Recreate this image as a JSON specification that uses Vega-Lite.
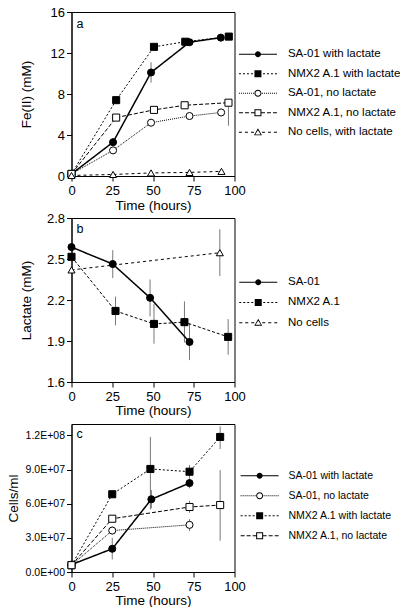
{
  "$schema": "https://vega.github.io/schema/vega-lite/v6.json",
  "padding": {"left": 3.5, "top": 5, "right": 160, "bottom": 0},
  "bounds": "flush",
  "spacing": 42,
  "resolve": {"scale": {"x": "independent", "y": "independent", "shape": "independent"}, "legend": {"shape": "independent"}},
  "config": {
    "font": "Liberation Sans",
    "view": {"stroke": "black", "strokeWidth": 1},
    "axis": {"domainColor": "black", "tickColor": "black", "labelColor": "black", "titleColor": "black", "grid": false, "labelFont": "Liberation Sans", "titleFont": "Liberation Sans", "labelFontSize": 13, "titleFontSize": 13.5, "titleFontWeight": "normal", "tickSize": 5, "labelPadding": 2, "domainWidth": 1, "tickWidth": 1, "labelFlush": false, "labelOverlap": false},
    "legend": {"labelColor": "black", "labelFont": "Liberation Sans", "labelLimit": 200, "title": null, "orient": "none", "padding": 0, "symbolSize": 4, "symbolOffset": 0, "symbolStrokeWidth": 0, "symbolOpacity": 1},
    "title": {"font": "Liberation Sans", "fontSize": 12.5, "fontWeight": "normal", "color": "black"}
  },
  "datasets": {
    "fe": [
      {"s": "SA-01 with lactate", "t": 0, "v": 0.2},
      {"s": "SA-01 with lactate", "t": 25.5, "v": 3.3, "lo": 2.9, "hi": 3.7},
      {"s": "SA-01 with lactate", "t": 48.8, "v": 10.1, "lo": 9.1, "hi": 11.1},
      {"s": "SA-01 with lactate", "t": 72.4, "v": 13.05},
      {"s": "SA-01 with lactate", "t": 91.6, "v": 13.5},
      {"s": "NMX2 A.1 with lactate", "t": 0, "v": 0.2},
      {"s": "NMX2 A.1 with lactate", "t": 27.4, "v": 7.4},
      {"s": "NMX2 A.1 with lactate", "t": 50.6, "v": 12.6},
      {"s": "NMX2 A.1 with lactate", "t": 69.8, "v": 13.1},
      {"s": "NMX2 A.1 with lactate", "t": 96.5, "v": 13.6},
      {"s": "SA-01, no lactate", "t": 0, "v": 0.2},
      {"s": "SA-01, no lactate", "t": 25.5, "v": 2.5},
      {"s": "SA-01, no lactate", "t": 48.8, "v": 5.2},
      {"s": "SA-01, no lactate", "t": 72.4, "v": 5.85},
      {"s": "SA-01, no lactate", "t": 91.8, "v": 6.2},
      {"s": "NMX2 A.1, no lactate", "t": 0, "v": 0.2},
      {"s": "NMX2 A.1, no lactate", "t": 27.4, "v": 5.7},
      {"s": "NMX2 A.1, no lactate", "t": 50.6, "v": 6.45},
      {"s": "NMX2 A.1, no lactate", "t": 69.4, "v": 6.9},
      {"s": "NMX2 A.1, no lactate", "t": 96.3, "v": 7.15, "lo": 4.9, "hi": 7.15},
      {"s": "No cells, with lactate", "t": 0, "v": 0.05},
      {"s": "No cells, with lactate", "t": 25.5, "v": 0.15},
      {"s": "No cells, with lactate", "t": 48.8, "v": 0.3},
      {"s": "No cells, with lactate", "t": 72.4, "v": 0.35},
      {"s": "No cells, with lactate", "t": 92, "v": 0.45}
    ],
    "lac": [
      {"s": "SA-01", "t": 0, "v": 2.587},
      {"s": "SA-01", "t": 25.3, "v": 2.463, "lo": 2.36, "hi": 2.565},
      {"s": "SA-01", "t": 48.2, "v": 2.216, "lo": 2.08, "hi": 2.35},
      {"s": "SA-01", "t": 72.4, "v": 1.893, "lo": 1.76, "hi": 2.03},
      {"s": "NMX2 A.1", "t": 0, "v": 2.516},
      {"s": "NMX2 A.1", "t": 27, "v": 2.12, "lo": 2.015, "hi": 2.225},
      {"s": "NMX2 A.1", "t": 50.6, "v": 2.025, "lo": 1.88, "hi": 2.17},
      {"s": "NMX2 A.1", "t": 69.3, "v": 2.038, "lo": 1.89, "hi": 2.19},
      {"s": "NMX2 A.1", "t": 96.1, "v": 1.93, "lo": 1.8, "hi": 2.06},
      {"s": "No cells", "t": 0, "v": 2.42},
      {"s": "No cells", "t": 91, "v": 2.546, "lo": 2.375, "hi": 2.717}
    ],
    "cells": [
      {"s": "SA-01 with lactate", "t": 0, "v": 6500000},
      {"s": "SA-01 with lactate", "t": 25, "v": 20400000, "lo": 11000000, "hi": 30000000},
      {"s": "SA-01 with lactate", "t": 49, "v": 63900000, "lo": 56000000, "hi": 72000000},
      {"s": "SA-01 with lactate", "t": 72.4, "v": 78100000, "lo": 73500000, "hi": 83000000},
      {"s": "SA-01, no lactate", "t": 0, "v": 6000000},
      {"s": "SA-01, no lactate", "t": 25, "v": 36400000, "lo": 33000000, "hi": 40000000},
      {"s": "SA-01, no lactate", "t": 72.4, "v": 41400000, "lo": 36000000, "hi": 46500000},
      {"s": "NMX2 A.1 with lactate", "t": 0, "v": 6000000},
      {"s": "NMX2 A.1 with lactate", "t": 25, "v": 68300000},
      {"s": "NMX2 A.1 with lactate", "t": 48.4, "v": 90500000, "lo": 55000000, "hi": 118700000},
      {"s": "NMX2 A.1 with lactate", "t": 72.4, "v": 88100000, "lo": 83000000, "hi": 94000000},
      {"s": "NMX2 A.1 with lactate", "t": 91.2, "v": 118600000, "lo": 108000000, "hi": 128000000},
      {"s": "NMX2 A.1, no lactate", "t": 0, "v": 6000000},
      {"s": "NMX2 A.1, no lactate", "t": 25, "v": 46800000},
      {"s": "NMX2 A.1, no lactate", "t": 72.4, "v": 57100000, "lo": 52000000, "hi": 62500000},
      {"s": "NMX2 A.1, no lactate", "t": 91.2, "v": 58800000, "lo": 27500000, "hi": 89500000}
    ]
  },
  "vconcat": [
    {
      "width": 163, "height": 164,
      "data": {"name": "fe"},
      "title": {"text": "a", "anchor": "start", "frame": "group", "orient": "top", "offset": 0, "baseline": "top", "dx": 5, "dy": 24},
      "layer": [
        {
          "transform": [{"filter": "isValid(datum.lo)"}],
          "mark": {"type": "rule", "stroke": "#555555", "strokeWidth": 0.8},
          "encoding": {
            "x": {"field": "t", "type": "quantitative", "scale": {"domain": [0, 100], "nice": false}, "axis": {"values": [0, 25, 50, 75, 100], "title": "Time (hours)", "titlePadding": 1, "labelPadding": 3}},
            "y": {"field": "lo", "type": "quantitative", "scale": {"domain": [0, 16], "nice": false}, "axis": {"values": [0, 4, 8, 12, 16], "title": "Fe(II)  (mM)", "titlePadding": 17}},
            "y2": {"field": "hi"}
          }
        },
        {
          "mark": {"type": "line", "stroke": "black"},
          "encoding": {
            "x": {"field": "t", "type": "quantitative", "scale": {"domain": [0, 100], "nice": false}, "axis": {"values": [0, 25, 50, 75, 100], "title": "Time (hours)", "titlePadding": 1, "labelPadding": 3}},
            "y": {"field": "v", "type": "quantitative", "scale": {"domain": [0, 16], "nice": false}, "axis": {"values": [0, 4, 8, 12, 16], "title": "Fe(II)  (mM)", "titlePadding": 17}},
            "detail": {"field": "s", "type": "nominal"},
            "strokeDash": {"condition": [{"test": "datum.s=='NMX2 A.1 with lactate'", "value": [2, 2]}, {"test": "datum.s=='SA-01, no lactate'", "value": [1, 1]}, {"test": "datum.s=='NMX2 A.1, no lactate'", "value": [4, 2]}, {"test": "datum.s=='No cells, with lactate'", "value": [3, 3]}], "value": [1, 0]},
            "strokeWidth": {"condition": {"test": "datum.s=='SA-01 with lactate'", "value": 1.5}, "value": 1}
          }
        },
        {
          "mark": {"type": "point", "filled": true, "stroke": "black", "strokeWidth": 1, "opacity": 1, "size": 50},
          "encoding": {
            "x": {"field": "t", "type": "quantitative", "scale": {"domain": [0, 100], "nice": false}, "axis": {"values": [0, 25, 50, 75, 100], "title": "Time (hours)", "titlePadding": 1, "labelPadding": 3}},
            "y": {"field": "v", "type": "quantitative", "scale": {"domain": [0, 16], "nice": false}, "axis": {"values": [0, 4, 8, 12, 16], "title": "Fe(II)  (mM)", "titlePadding": 17}},
            "fill": {"condition": {"test": "datum.s=='SA-01 with lactate' || datum.s=='NMX2 A.1 with lactate'", "value": "black"}, "value": "white"},
            "shape": {"condition": [{"test": "indexof(datum.s, 'NMX2') >= 0", "value": "square"}, {"test": "indexof(datum.s, 'No cells') >= 0", "value": "triangle-up"}], "value": "circle"}
          }
        },
        {
          "mark": {"type": "point", "filled": true, "fill": "black", "strokeWidth": 0, "opacity": 0, "size": 50},
          "encoding": {
            "x": {"field": "t", "type": "quantitative", "scale": {"domain": [0, 100], "nice": false}, "axis": {"values": [0, 25, 50, 75, 100], "title": "Time (hours)", "titlePadding": 1, "labelPadding": 3}},
            "y": {"field": "v", "type": "quantitative", "scale": {"domain": [0, 16], "nice": false}, "axis": {"values": [0, 4, 8, 12, 16], "title": "Fe(II)  (mM)", "titlePadding": 17}},
            "shape": {"field": "s", "type": "nominal", "scale": {"domain": ["SA-01 with lactate", "NMX2 A.1 with lactate", "SA-01, no lactate", "NMX2 A.1, no lactate", "No cells, with lactate"], "range": [
              "M-19,-0.6H19V0.6H-19ZM3,0A3,3,0,1,1,-3,0A3,3,0,1,1,3,0Z",
              "M-19,-0.5H-17V0.5H-19ZM-15,-0.5H-13V0.5H-15ZM-11,-0.5H-9V0.5H-11ZM-7,-0.5H-5V0.5H-7ZM5,-0.5H7V0.5H5ZM9,-0.5H11V0.5H9ZM13,-0.5H15V0.5H13ZM17,-0.5H19V0.5H17ZM-3.5,-3.5H3.5V3.5H-3.5Z",
              "M-19,-0.5H-18V0.5H-19ZM-17,-0.5H-16V0.5H-17ZM-15,-0.5H-14V0.5H-15ZM-13,-0.5H-12V0.5H-13ZM-11,-0.5H-10V0.5H-11ZM-9,-0.5H-8V0.5H-9ZM-7,-0.5H-6V0.5H-7ZM-5,-0.5H-4V0.5H-5ZM4,-0.5H5V0.5H4ZM6,-0.5H7V0.5H6ZM8,-0.5H9V0.5H8ZM10,-0.5H11V0.5H10ZM12,-0.5H13V0.5H12ZM14,-0.5H15V0.5H14ZM16,-0.5H17V0.5H16ZM18,-0.5H19V0.5H18ZM3.5,0A3.5,3.5,0,1,1,-3.5,0A3.5,3.5,0,1,1,3.5,0ZM2.5,0A2.5,2.5,0,1,0,-2.5,0A2.5,2.5,0,1,0,2.5,0Z",
              "M-19,-0.5H-15V0.5H-19ZM-13,-0.5H-9V0.5H-13ZM-7,-0.5H-3.5V0.5H-7ZM3.5,-0.5H7V0.5H3.5ZM9,-0.5H13V0.5H9ZM15,-0.5H19V0.5H15ZM-3.5,-3.5H3.5V3.5H-3.5ZM-2.5,-2.5V2.5H2.5V-2.5Z",
              "M-19,-0.5H-16V0.5H-19ZM-13,-0.5H-10V0.5H-13ZM-7,-0.5H-4V0.5H-7ZM4,-0.5H7V0.5H4ZM10,-0.5H13V0.5H10ZM16,-0.5H19V0.5H16ZM0,-4L4,3H-4ZM0,-2L-2.7,2.2H2.7Z"
            ]},
              "legend": {"orient": "none", "legendX": 180.7, "legendY": 36.5, "title": null, "labelOffset": 24.25, "rowPadding": 6.5, "labelFontSize": 11.5, "symbolOpacity": 1, "symbolSize": 4, "symbolStrokeWidth": 0}
            }
          }
        }
      ]
    },
    {
      "width": 163, "height": 164,
      "data": {"name": "lac"},
      "title": {"text": "b", "anchor": "start", "frame": "group", "orient": "top", "offset": 0, "baseline": "top", "dx": 5, "dy": 23.5},
      "layer": [
        {
          "transform": [{"filter": "isValid(datum.lo)"}],
          "mark": {"type": "rule", "stroke": "#555555", "strokeWidth": 0.8},
          "encoding": {
            "x": {"field": "t", "type": "quantitative", "scale": {"domain": [0, 100], "nice": false}, "axis": {"values": [0, 25, 50, 75, 100], "title": "Time (hours)", "titlePadding": 0, "labelPadding": 3}},
            "y": {"field": "lo", "type": "quantitative", "scale": {"domain": [1.6, 2.8], "nice": false, "zero": false}, "axis": {"values": [1.6, 1.9, 2.2, 2.5, 2.8], "format": ".1f", "title": "Lactate (mM)", "titlePadding": 13}},
            "y2": {"field": "hi"}
          }
        },
        {
          "mark": {"type": "line", "stroke": "black"},
          "encoding": {
            "x": {"field": "t", "type": "quantitative", "scale": {"domain": [0, 100], "nice": false}, "axis": {"values": [0, 25, 50, 75, 100], "title": "Time (hours)", "titlePadding": 0, "labelPadding": 3}},
            "y": {"field": "v", "type": "quantitative", "scale": {"domain": [1.6, 2.8], "nice": false, "zero": false}, "axis": {"values": [1.6, 1.9, 2.2, 2.5, 2.8], "format": ".1f", "title": "Lactate (mM)", "titlePadding": 13}},
            "detail": {"field": "s", "type": "nominal"},
            "strokeDash": {"condition": [{"test": "datum.s=='NMX2 A.1'", "value": [3, 2]}, {"test": "datum.s=='No cells'", "value": [3, 3]}], "value": [1, 0]},
            "strokeWidth": {"condition": {"test": "datum.s=='SA-01'", "value": 1.5}, "value": 1}
          }
        },
        {
          "mark": {"type": "point", "filled": true, "stroke": "black", "strokeWidth": 1, "opacity": 1, "size": 50},
          "encoding": {
            "x": {"field": "t", "type": "quantitative", "scale": {"domain": [0, 100], "nice": false}, "axis": {"values": [0, 25, 50, 75, 100], "title": "Time (hours)", "titlePadding": 0, "labelPadding": 3}},
            "y": {"field": "v", "type": "quantitative", "scale": {"domain": [1.6, 2.8], "nice": false, "zero": false}, "axis": {"values": [1.6, 1.9, 2.2, 2.5, 2.8], "format": ".1f", "title": "Lactate (mM)", "titlePadding": 13}},
            "fill": {"condition": {"test": "datum.s=='No cells'", "value": "white"}, "value": "black"},
            "shape": {"condition": [{"test": "datum.s=='NMX2 A.1'", "value": "square"}, {"test": "datum.s=='No cells'", "value": "triangle-up"}], "value": "circle"}
          }
        },
        {
          "mark": {"type": "point", "filled": true, "fill": "black", "strokeWidth": 0, "opacity": 0, "size": 50},
          "encoding": {
            "x": {"field": "t", "type": "quantitative", "scale": {"domain": [0, 100], "nice": false}, "axis": {"values": [0, 25, 50, 75, 100], "title": "Time (hours)", "titlePadding": 0, "labelPadding": 3}},
            "y": {"field": "v", "type": "quantitative", "scale": {"domain": [1.6, 2.8], "nice": false, "zero": false}, "axis": {"values": [1.6, 1.9, 2.2, 2.5, 2.8], "format": ".1f", "title": "Lactate (mM)", "titlePadding": 13}},
            "shape": {"field": "s", "type": "nominal", "scale": {"domain": ["SA-01", "NMX2 A.1", "No cells"], "range": [
              "M-19,-0.6H19V0.6H-19ZM3,0A3,3,0,1,1,-3,0A3,3,0,1,1,3,0Z",
              "M-19,-0.5H-17V0.5H-19ZM-15,-0.5H-13V0.5H-15ZM-11,-0.5H-9V0.5H-11ZM-7,-0.5H-5V0.5H-7ZM5,-0.5H7V0.5H5ZM9,-0.5H11V0.5H9ZM13,-0.5H15V0.5H13ZM17,-0.5H19V0.5H17ZM-3.5,-3.5H3.5V3.5H-3.5Z",
              "M-19,-0.5H-16V0.5H-19ZM-13,-0.5H-10V0.5H-13ZM-7,-0.5H-4V0.5H-7ZM4,-0.5H7V0.5H4ZM10,-0.5H13V0.5H10ZM16,-0.5H19V0.5H16ZM0,-4L4,3H-4ZM0,-2L-2.7,2.2H2.7Z"
            ]},
              "legend": {"orient": "none", "legendX": 181, "legendY": 58.5, "title": null, "labelOffset": 24, "rowPadding": 7.2, "labelFontSize": 11.5, "symbolOpacity": 1, "symbolSize": 4, "symbolStrokeWidth": 0}
            }
          }
        }
      ]
    },
    {
      "width": 163, "height": 148,
      "data": {"name": "cells"},
      "title": {"text": "c", "anchor": "start", "frame": "group", "orient": "top", "offset": 0, "baseline": "top", "dx": 5, "dy": 16.5},
      "layer": [
        {
          "transform": [{"filter": "isValid(datum.lo)"}],
          "mark": {"type": "rule", "stroke": "#555555", "strokeWidth": 0.8},
          "encoding": {
            "x": {"field": "t", "type": "quantitative", "scale": {"domain": [0, 100], "nice": false}, "axis": {"values": [0, 25, 50, 75, 100], "title": "Time (hours)", "titlePadding": 0, "labelPadding": 3}},
            "y": {"field": "lo", "type": "quantitative", "scale": {"domain": [0, 130000000], "nice": false}, "axis": {"values": [0, 30000000, 60000000, 90000000, 120000000], "labelExpr": "replace(format(datum.value, '.1e'), 'e+', 'E+0')", "labelFontSize": 10.5, "title": "Cells/ml", "titlePadding": 5}},
            "y2": {"field": "hi"}
          }
        },
        {
          "mark": {"type": "line", "stroke": "black"},
          "encoding": {
            "x": {"field": "t", "type": "quantitative", "scale": {"domain": [0, 100], "nice": false}, "axis": {"values": [0, 25, 50, 75, 100], "title": "Time (hours)", "titlePadding": 0, "labelPadding": 3}},
            "y": {"field": "v", "type": "quantitative", "scale": {"domain": [0, 130000000], "nice": false}, "axis": {"values": [0, 30000000, 60000000, 90000000, 120000000], "labelExpr": "replace(format(datum.value, '.1e'), 'e+', 'E+0')", "labelFontSize": 10.5, "title": "Cells/ml", "titlePadding": 5}},
            "detail": {"field": "s", "type": "nominal"},
            "strokeDash": {"condition": [{"test": "datum.s=='SA-01, no lactate'", "value": [1, 1]}, {"test": "datum.s=='NMX2 A.1 with lactate'", "value": [2, 2]}, {"test": "datum.s=='NMX2 A.1, no lactate'", "value": [4, 2]}], "value": [1, 0]},
            "strokeWidth": {"condition": {"test": "datum.s=='SA-01 with lactate'", "value": 1.5}, "value": 1}
          }
        },
        {
          "mark": {"type": "point", "filled": true, "stroke": "black", "strokeWidth": 1, "opacity": 1, "size": 50},
          "encoding": {
            "x": {"field": "t", "type": "quantitative", "scale": {"domain": [0, 100], "nice": false}, "axis": {"values": [0, 25, 50, 75, 100], "title": "Time (hours)", "titlePadding": 0, "labelPadding": 3}},
            "y": {"field": "v", "type": "quantitative", "scale": {"domain": [0, 130000000], "nice": false}, "axis": {"values": [0, 30000000, 60000000, 90000000, 120000000], "labelExpr": "replace(format(datum.value, '.1e'), 'e+', 'E+0')", "labelFontSize": 10.5, "title": "Cells/ml", "titlePadding": 5}},
            "fill": {"condition": {"test": "datum.s=='SA-01 with lactate' || datum.s=='NMX2 A.1 with lactate'", "value": "black"}, "value": "white"},
            "shape": {"condition": {"test": "indexof(datum.s, 'NMX2') >= 0", "value": "square"}, "value": "circle"}
          }
        },
        {
          "mark": {"type": "point", "filled": true, "fill": "black", "strokeWidth": 0, "opacity": 0, "size": 50},
          "encoding": {
            "x": {"field": "t", "type": "quantitative", "scale": {"domain": [0, 100], "nice": false}, "axis": {"values": [0, 25, 50, 75, 100], "title": "Time (hours)", "titlePadding": 0, "labelPadding": 3}},
            "y": {"field": "v", "type": "quantitative", "scale": {"domain": [0, 130000000], "nice": false}, "axis": {"values": [0, 30000000, 60000000, 90000000, 120000000], "labelExpr": "replace(format(datum.value, '.1e'), 'e+', 'E+0')", "labelFontSize": 10.5, "title": "Cells/ml", "titlePadding": 5}},
            "shape": {"field": "s", "type": "nominal", "scale": {"domain": ["SA-01 with lactate", "SA-01, no lactate", "NMX2 A.1 with lactate", "NMX2 A.1, no lactate"], "range": [
              "M-19,-0.6H19V0.6H-19ZM3,0A3,3,0,1,1,-3,0A3,3,0,1,1,3,0Z",
              "M-19,-0.5H-18V0.5H-19ZM-17,-0.5H-16V0.5H-17ZM-15,-0.5H-14V0.5H-15ZM-13,-0.5H-12V0.5H-13ZM-11,-0.5H-10V0.5H-11ZM-9,-0.5H-8V0.5H-9ZM-7,-0.5H-6V0.5H-7ZM-5,-0.5H-4V0.5H-5ZM4,-0.5H5V0.5H4ZM6,-0.5H7V0.5H6ZM8,-0.5H9V0.5H8ZM10,-0.5H11V0.5H10ZM12,-0.5H13V0.5H12ZM14,-0.5H15V0.5H14ZM16,-0.5H17V0.5H16ZM18,-0.5H19V0.5H18ZM3.5,0A3.5,3.5,0,1,1,-3.5,0A3.5,3.5,0,1,1,3.5,0ZM2.5,0A2.5,2.5,0,1,0,-2.5,0A2.5,2.5,0,1,0,2.5,0Z",
              "M-19,-0.5H-17V0.5H-19ZM-15,-0.5H-13V0.5H-15ZM-11,-0.5H-9V0.5H-11ZM-7,-0.5H-5V0.5H-7ZM5,-0.5H7V0.5H5ZM9,-0.5H11V0.5H9ZM13,-0.5H15V0.5H13ZM17,-0.5H19V0.5H17ZM-3.5,-3.5H3.5V3.5H-3.5Z",
              "M-19,-0.5H-15V0.5H-19ZM-13,-0.5H-9V0.5H-13ZM-7,-0.5H-3.5V0.5H-7ZM3.5,-0.5H7V0.5H3.5ZM9,-0.5H13V0.5H9ZM15,-0.5H19V0.5H15ZM-3.5,-3.5H3.5V3.5H-3.5ZM-2.5,-2.5V2.5H2.5V-2.5Z"
            ]},
              "legend": {"orient": "none", "legendX": 182.9, "legendY": 46.5, "title": null, "labelOffset": 23.5, "rowPadding": 9, "labelFontSize": 10.5, "symbolOpacity": 1, "symbolSize": 4, "symbolStrokeWidth": 0}
            }
          }
        }
      ]
    }
  ]
}
